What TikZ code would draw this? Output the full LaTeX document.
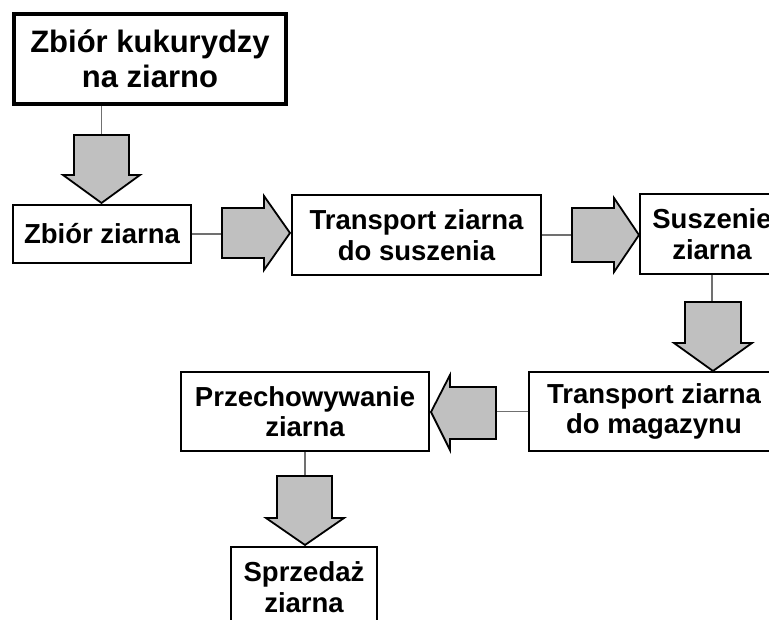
\documentclass[tikz,border=0pt]{standalone}
\usepackage{fontspec}
\setmainfont{Liberation Sans}
\definecolor{fatgray}{HTML}{C0C0C0}
\definecolor{conngray}{HTML}{707070}
\begin{document}
\begin{tikzpicture}[x=1pt,y=-1pt,
  box/.style={draw=black,line width=1.8pt,fill=white,align=center,inner sep=0pt,
    font=\bfseries\fontsize{27.5}{30.5}\selectfont},
  titlebox/.style={box,line width=3.8pt,font=\bfseries\fontsize{31}{35}\selectfont},
  conn/.style={draw=conngray,line width=1.5pt},
  fat/.style={draw=black,line width=1.8pt,fill=fatgray,line join=miter}]
\useasboundingbox (0,0) rectangle (769,620);
\clip (0,0) rectangle (769,620);
\fill[white] (0,0) rectangle (769,620);

% boxes
\node[titlebox,minimum width=272pt,minimum height=90pt] (b1) at (150,59) {Zbiór kukurydzy\\na ziarno};
\node[box,minimum width=178pt,minimum height=58pt] (b2) at (102,234) {Zbiór ziarna};
\node[box,minimum width=249pt,minimum height=80pt] (b3) at (416.5,235) {Transport ziarna\\do suszenia};
\node[box,minimum width=144pt,minimum height=80pt] (b4) at (712,234) {Suszenie\\ziarna};
\node[box,minimum width=250pt,minimum height=79pt] (b5) at (654,411.5) {Transport ziarna\\do magazynu};
\node[box,minimum width=248pt,minimum height=79pt] (b6) at (305,411.5) {Przechowywanie\\ziarna};
\node[box,minimum width=146pt,minimum height=80pt] (b7) at (304,587) {Sprzedaż\\ziarna};

% tails of the fat arrows
\coordinate (t1) at (101.5,135);
\coordinate (t2) at (222,234);
\coordinate (t3) at (572,235);
\coordinate (t4) at (712,302);
\coordinate (t5) at (496,411.5);
\coordinate (t6) at (305,476);

% thin connectors
\draw[conn] (b1.south -| t1) -- (t1);
\draw[conn] (b2.east) -- (t2);
\draw[conn] (b3.east) -- (t3);
\draw[conn] (b4.south -| t4) -- (t4);
\draw[conn] (b5.west) -- (t5);
\draw[conn] (b6.south) -- (t6);

% fat arrows
\draw[fat] (74,135) -- (129,135) -- (129,175) -- (140,175) -- (101.5,203) -- (63,175) -- (74,175) -- cycle;
\draw[fat] (222,208) -- (264,208) -- (264,196) -- (290,233) -- (264,270) -- (264,258) -- (222,258) -- cycle;
\draw[fat] (572,208) -- (614,208) -- (614,198) -- (639,235) -- (614,272) -- (614,262) -- (572,262) -- cycle;
\draw[fat] (685,302) -- (741,302) -- (741,343) -- (752,343) -- (713,371) -- (674,343) -- (685,343) -- cycle;
\draw[fat] (496,387) -- (450,387) -- (450,375) -- (431,412) -- (450,450) -- (450,439) -- (496,439) -- cycle;
\draw[fat] (277,476) -- (332,476) -- (332,518) -- (344,518) -- (305,545) -- (266,518) -- (277,518) -- cycle;
\end{tikzpicture}
\end{document}
